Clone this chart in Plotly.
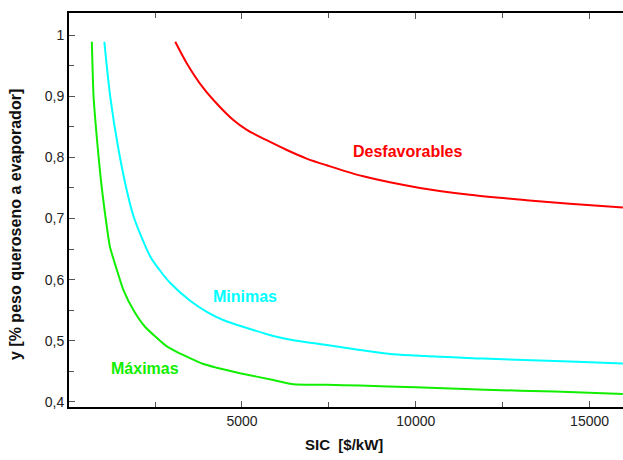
import plotly.graph_objects as go

# ---- data ----
max_x = [680, 730, 830, 940, 1050, 1200, 1400, 1590, 1880, 2210, 2790, 3120, 3890, 4270, 4940, 5900, 6480, 7440, 8390, 10000, 12000, 14000, 15960]
max_y = [0.989, 0.899, 0.828, 0.763, 0.712, 0.654, 0.616, 0.583, 0.550, 0.523, 0.493, 0.482, 0.462, 0.456, 0.447, 0.436, 0.429, 0.428, 0.427, 0.424, 0.420, 0.417, 0.413]

min_x = [1040, 1210, 1450, 1730, 1900, 2360, 2640, 2930, 3500, 4000, 4460, 5140, 5900, 6480, 7440, 8390, 9350, 11940, 14430, 15960]
min_y = [0.989, 0.899, 0.812, 0.735, 0.700, 0.638, 0.615, 0.595, 0.566, 0.547, 0.534, 0.521, 0.508, 0.501, 0.493, 0.485, 0.478, 0.471, 0.466, 0.463]

desf_x = [3080, 3410, 3890, 4270, 4750, 5140, 5710, 6290, 6860, 7440, 8490, 10120, 11550, 13180, 14430, 15960]
desf_y = [0.989, 0.954, 0.913, 0.888, 0.861, 0.845, 0.828, 0.812, 0.798, 0.787, 0.769, 0.750, 0.739, 0.730, 0.724, 0.718]

x_tickvals = [5000, 10000, 15000]
x_ticktext = ["5000", "10000", "15000"]
x_minor = [2500, 7500, 12500]
y_tickvals = [0.4, 0.5, 0.6, 0.7, 0.8, 0.9, 1.0]
y_ticktext = ["0,4", "0,5", "0,6", "0,7", "0,8", "0,9", "1"]
y_minor = [0.45, 0.55, 0.65, 0.75, 0.85, 0.95]

labels = ["Desfavorables", "Minimas", "Máximas"]
label_x = [9776, 5087, 2210]
label_y = [0.809, 0.573, 0.455]

RED, CYAN, GREEN = "#ff0000", "#00ffff", "#11ee00"
FONT = "Arial, 'Liberation Sans', sans-serif"

fig = go.Figure()
fig.add_trace(go.Scatter(x=desf_x, y=desf_y, mode="lines",
                         line=dict(color=RED, width=2, shape="spline", smoothing=0.8), showlegend=False))
fig.add_trace(go.Scatter(x=min_x, y=min_y, mode="lines",
                         line=dict(color=CYAN, width=2, shape="spline", smoothing=0.8), showlegend=False))
fig.add_trace(go.Scatter(x=max_x, y=max_y, mode="lines",
                         line=dict(color=GREEN, width=2, shape="spline", smoothing=0.5), showlegend=False))

for t, xx, yy, c in zip(labels, label_x, label_y, [RED, CYAN, GREEN]):
    fig.add_annotation(x=xx, y=yy, xref="x", yref="y", text="<b>%s</b>" % t, showarrow=False,
                       font=dict(family=FONT, size=16, color=c), xanchor="center", yanchor="middle")

fig.add_annotation(x=0.496, y=-0.096, xref="paper", yref="paper", text="<b>SIC\u00a0 [$/kW]</b>",
                   showarrow=False, font=dict(family=FONT, size=15, color="#111"),
                   xanchor="center", yanchor="middle")
fig.add_annotation(x=-0.0957, y=0.4645, xref="paper", yref="paper",
                   text="<b>y [% peso queroseno a evaporador]</b>", textangle=-90,
                   showarrow=False, font=dict(family=FONT, size=16, color="#111"),
                   xanchor="center", yanchor="middle")

fig.update_xaxes(range=[23, 15962], tickvals=x_tickvals, ticktext=x_ticktext,
                 ticks="inside", ticklen=6, tickcolor="#555", tickwidth=1,
                 minor=dict(tickvals=x_minor, ticks="inside", ticklen=5, tickcolor="#555"),
                 showline=True, linecolor="black", linewidth=2, mirror="ticks",
                 showgrid=False, zeroline=False,
                 tickfont=dict(family=FONT, size=14, color="#222"))
fig.update_yaxes(range=[0.3918, 1.036], tickvals=y_tickvals, ticktext=y_ticktext,
                 ticks="inside", ticklen=6, tickcolor="#555", tickwidth=1,
                 minor=dict(tickvals=y_minor, ticks="inside", ticklen=5, tickcolor="#555"),
                 showline=True, linecolor="black", linewidth=2, mirror=False,
                 showgrid=False, zeroline=False,
                 tickfont=dict(family=FONT, size=14, color="#222"))

fig.update_layout(width=623, height=460, margin=dict(l=69, r=0, t=13, b=53),
                  plot_bgcolor="white", paper_bgcolor="white")

fig.write_html("out.html")
